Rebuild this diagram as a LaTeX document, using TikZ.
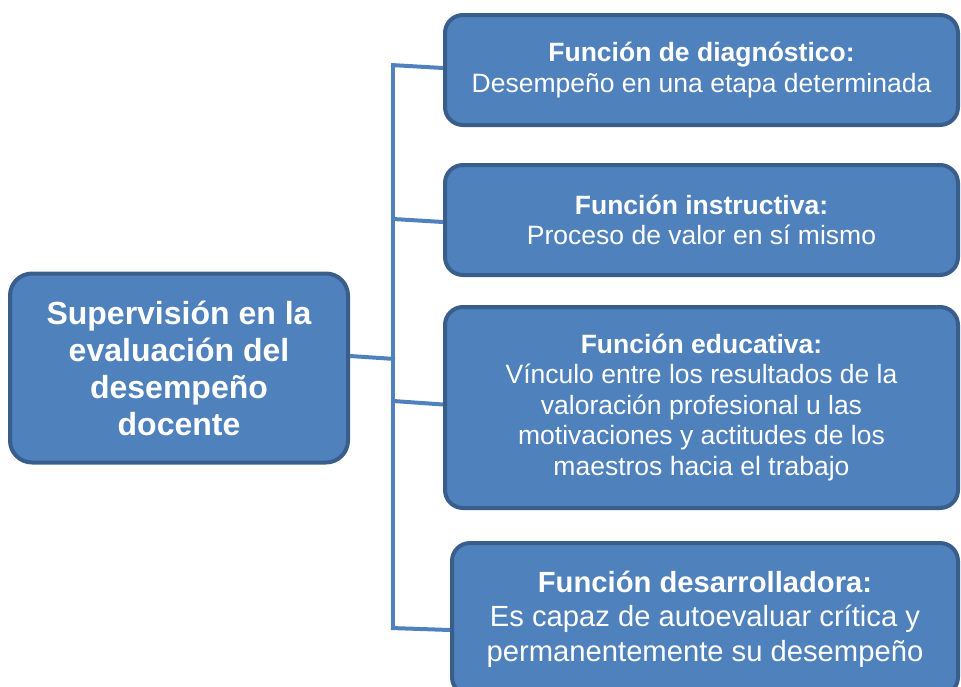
\documentclass[tikz,border=0pt]{standalone}
\usepackage{fontspec}
\setmainfont{Liberation Sans}
\definecolor{boxfill}{HTML}{4F81BD}
\definecolor{boxline}{HTML}{3A5E8C}
\begin{document}
\begin{tikzpicture}[x=1pt,y=-1pt,
  box/.style={draw=boxline, line width=4pt, fill=boxfill, rounded corners=18pt,
    text=white, align=center, inner sep=0pt},
  small/.style={font=\fontsize{26.5}{30.5}\selectfont},
  big/.style={font=\fontsize{29.2}{34.5}\selectfont},
  huge/.style={font=\fontsize{32}{37}\selectfont\bfseries},
  conn/.style={draw=boxfill, line width=4pt}]
\useasboundingbox (0,0) rectangle (961,686);
\clip (0,0) rectangle (961,686);

\node[box, huge, rounded corners=22pt, minimum width=338pt, minimum height=189pt] (main) at (179,368)
  {Supervisión en la\\evaluación del\\desempeño\\docente};

\node[box, small, minimum width=513pt, minimum height=110pt] (d1) at (701.5,70)
  {\textbf{Función de diagnóstico:}\\Desempeño en una etapa determinada};
\node[box, small, minimum width=513pt, minimum height=110pt] (d2) at (701.5,220)
  {\textbf{Función instructiva:}\\Proceso de valor en sí mismo};
\node[box, small, minimum width=513pt, minimum height=201pt] (d3) at (701.5,407.5)
  {\textbf{Función educativa:}\\Vínculo entre los resultados de la\\valoración profesional u las\\motivaciones y actitudes de los\\maestros hacia el trabajo};
\node[box, big, minimum width=506pt, minimum height=152pt] (d4) at (705,619)
  {\textbf{Función desarrolladora:}\\Es capaz de autoevaluar crítica y\\permanentemente su desempeño};

\coordinate (s1) at (393,65);
\coordinate (s2) at (393,219);
\coordinate (sm) at (395,359);
\coordinate (s3) at (393,401);
\coordinate (s4) at (393,628);

\draw[conn] ([yshift=2pt]s1) -- (s4);
\draw[conn] ([xshift=-2pt]s1) -- ([yshift=2pt]d1.west);
\draw[conn] (s2) -- ([yshift=-2pt]d2.west);
\draw[conn] ([yshift=12pt]main.east) -- (sm);
\draw[conn] (s3) -- ([yshift=3pt]d3.west);
\draw[conn] ([xshift=-2pt]s4) -- ([yshift=-11pt]d4.west);
\end{tikzpicture}
\end{document}
